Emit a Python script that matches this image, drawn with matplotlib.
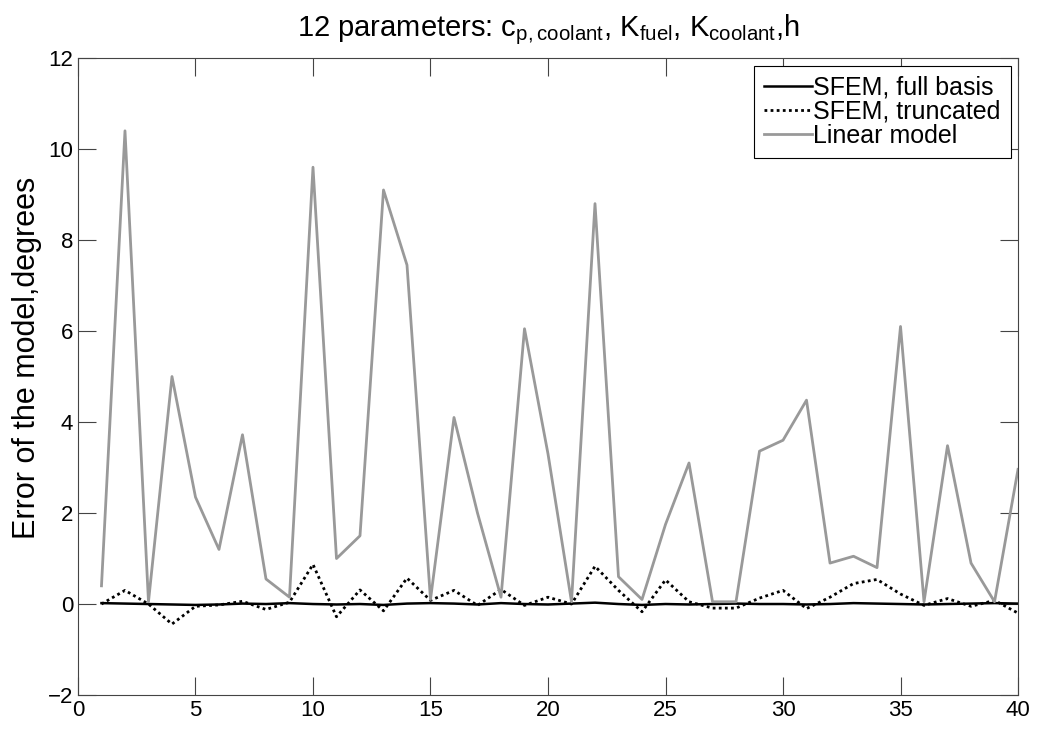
import numpy as np
import matplotlib
matplotlib.use("Agg")
import matplotlib.pyplot as plt

plt.rcParams['font.family'] = ['Liberation Sans', 'DejaVu Sans']
plt.rcParams['mathtext.default'] = 'regular'

x = list(range(1, 41))

# SFEM, full basis - essentially zero error
sfem_full = [0.02, 0.01, 0.0, -0.01, -0.02, -0.01, 0.01, 0.0, 0.02, 0.0,
             -0.01, 0.0, -0.02, 0.01, 0.02, 0.01, -0.01, 0.02, 0.0, -0.01,
             0.01, 0.03, 0.0, -0.02, 0.0, -0.01, 0.0, 0.01, 0.0, 0.0,
             -0.01, 0.0, 0.02, 0.01, 0.0, -0.01, 0.0, 0.01, 0.02, 0.01]

sfem_trunc = [0.0, 0.3, 0.0, -0.44, -0.05, -0.02, 0.06, -0.12, 0.04, 0.87,
              -0.28, 0.31, -0.15, 0.57, 0.08, 0.3, -0.03, 0.32, -0.03, 0.15,
              0.0, 0.83, 0.3, -0.17, 0.53, 0.05, -0.09, -0.09, 0.13, 0.3,
              -0.1, 0.15, 0.45, 0.54, 0.22, -0.03, 0.12, -0.05, 0.08, -0.2]

linear = [0.4, 10.4, 0.05, 5.0, 2.35, 1.2, 3.72, 0.55, 0.15, 9.6,
          1.0, 1.5, 9.1, 7.45, 0.1, 4.1, 2.0, 0.15, 6.05, 3.3,
          0.05, 8.8, 0.6, 0.1, 1.75, 3.1, 0.05, 0.05, 3.36, 3.6,
          4.48, 0.9, 1.05, 0.8, 6.1, 0.05, 3.48, 0.9, 0.05, 2.96]

fig = plt.figure(figsize=(10.37, 7.29), dpi=100)
ax = fig.add_axes([0.0752, 0.0466, 0.9065, 0.8738])

ax.plot(x, sfem_full, color='black', lw=1.8, label='SFEM, full basis')
ax.plot(x, sfem_trunc, color='black', lw=2, linestyle=(0, (1, 1.2)), label='SFEM, truncated')
ax.plot(x, linear, color='#999999', lw=2, label='Linear model')

ax.set_xlim(0, 40)
ax.set_ylim(-2, 12)
ax.set_xticks(range(0, 41, 5))
ax.set_yticks(range(-2, 13, 2))
ax.tick_params(direction='in', length=13, width=0.8, labelsize=16,
               top=True, right=True, color='#444444')
for s in ax.spines.values():
    s.set_color('#444444')

ax.set_ylabel('Error of the model,degrees', fontsize=22)
ax.yaxis.set_label_coords(-0.038, 0.53)
ax.set_title(r'12 parameters: c$_{p,coolant}$, K$_{fuel}$, K$_{coolant}$,h', fontsize=21, pad=16)

leg = ax.legend(loc='upper right', fontsize=18, fancybox=False, framealpha=1,
                edgecolor='black', handlelength=1.9, handletextpad=0.05,
                borderpad=0.4, labelspacing=0.0, borderaxespad=0.3)
leg.get_frame().set_linewidth(0.8)

fig.savefig('out.png', dpi=100)
